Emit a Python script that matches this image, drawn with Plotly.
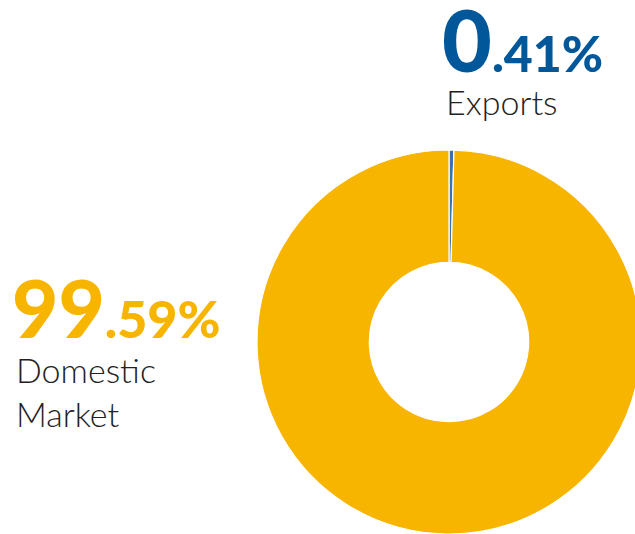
import plotly.graph_objects as go

categories = ["Exports", "Domestic Market"]
shares = [0.41, 99.59]
slice_colors = ["#3a72b5", "#f7b500"]
label_colors = ["#00579a", "#f7b500"]

W, H = 660, 560

def px_x(x):
    return x / W

def px_y(y):
    return 1 - y / H

fig = go.Figure(go.Pie(
    labels=categories,
    values=shares,
    hole=0.415,
    sort=False,
    direction="clockwise",
    rotation=0,
    textinfo="none",
    marker=dict(colors=slice_colors, line=dict(color="white", width=1.2)),
    domain=dict(x=[px_x(257), px_x(641)], y=[px_y(534), px_y(150)]),
    showlegend=False,
))

def pct_parts(v):
    s = f"{v:.2f}"
    a, b = s.split(".")
    return a, "." + b + "%"

annots = []
# Exports
a, b = pct_parts(shares[0])
annots.append(dict(x=px_x(440), y=px_y(92), xref="paper", yref="paper",
                   xanchor="left", yanchor="bottom", showarrow=False,
                   text=f"{a}<span style='font-size:50px'>{b}</span>",
                   font=dict(family="Lato", size=86, color=label_colors[0], weight=900)))
annots.append(dict(x=px_x(444), y=px_y(79), xref="paper", yref="paper",
                   xanchor="left", yanchor="top", showarrow=False, align="left",
                   text=categories[0],
                   font=dict(family="Lato", size=34, color="#222222", weight=300)))
# Domestic
a, b = pct_parts(shares[1])
annots.append(dict(x=px_x(10), y=px_y(357), xref="paper", yref="paper",
                   xanchor="left", yanchor="bottom", showarrow=False,
                   text=f"{a}<span style='font-size:52px'>{b}</span>",
                   font=dict(family="Lato", size=80, color=label_colors[1], weight=900)))
annots.append(dict(x=px_x(14), y=px_y(347), xref="paper", yref="paper",
                   xanchor="left", yanchor="top", showarrow=False, align="left",
                   text="Domestic<br>Market",
                   font=dict(family="Lato", size=34, color="#222222", weight=300)))

fig.update_layout(
    width=W, height=H,
    margin=dict(l=0, r=0, t=0, b=0),
    paper_bgcolor="white", plot_bgcolor="white",
    annotations=annots,
)

fig.write_html("out.html", config={"displayModeBar": False},
               post_script="document.body.style.margin='0';document.body.style.overflow='hidden';")
